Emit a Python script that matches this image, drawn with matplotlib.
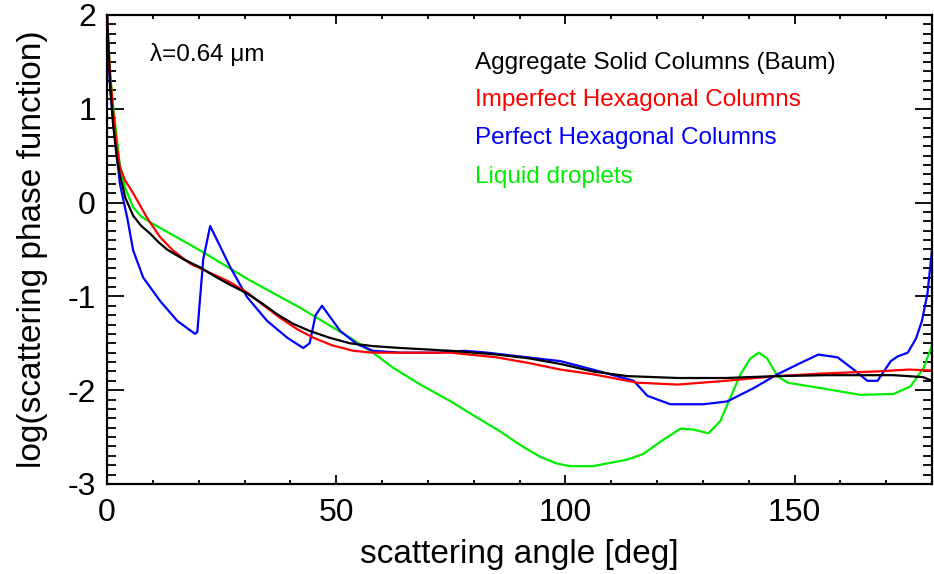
import numpy as np
import matplotlib
matplotlib.use('Agg')
import matplotlib.pyplot as plt
from matplotlib.ticker import MultipleLocator

# Aggregate Solid Columns (Baum)
agg_angle = [0, 0.3, 0.7, 1.3, 2.2, 2.8, 4, 5.7, 7.5, 9.4, 11.2, 13.1, 16.5, 20.3, 24, 27, 30.6, 34, 37.1,
             40.5, 44.3, 48.5, 53, 58, 64, 75, 85, 92, 98.9, 106, 113.5, 124.5, 135, 146, 157, 171.6, 178, 180]
agg_logp = [2, 1.65, 1.25, 0.84, 0.45, 0.3, 0.05, -0.14, -0.25, -0.33, -0.42, -0.5, -0.6, -0.69, -0.8, -0.88, -0.97, -1.08, -1.19,
            -1.29, -1.37, -1.44, -1.5, -1.53, -1.55, -1.58, -1.62, -1.66, -1.72, -1.8, -1.85, -1.87, -1.87, -1.85, -1.84, -1.84, -1.86, -1.9]

# Imperfect Hexagonal Columns
imp_angle = [0, 0.3, 0.7, 1.3, 2, 2.8, 3.9, 5.7, 8.7, 11.6, 14.4, 18.1, 22.5, 26.5, 30.6, 34, 37.8, 41.5, 45, 49, 53.7,
             58, 64, 75, 85, 92, 98.9, 106, 115.7, 124.5, 135, 146, 157, 168, 175, 180]
imp_logp = [2, 1.7, 1.35, 1.0, 0.65, 0.38, 0.24, 0.1, -0.16, -0.37, -0.51, -0.65, -0.75, -0.84, -0.96, -1.09, -1.23, -1.35, -1.44, -1.52, -1.58,
            -1.6, -1.6, -1.6, -1.65, -1.71, -1.78, -1.83, -1.92, -1.94, -1.9, -1.85, -1.82, -1.8, -1.78, -1.79]

# Perfect Hexagonal Columns
per_angle = [0, 0.3, 0.7, 1.3, 2.8, 4.4, 5.7, 7.9, 11.6, 15.3, 19.2, 19.7, 21, 22.5, 26.9, 30.6,
             34.9, 39.3, 42.8, 44.2, 45.5, 46.9, 50.9, 54.6, 58, 64, 72, 78, 83, 90,
             98.9, 106, 114.9, 117.9, 122.9, 130.1, 135.3, 141, 146.3, 151.3, 155.2, 159.4,
             162.9, 165.9, 168.1, 171, 172.5, 174.7, 176.5, 177.8, 179, 180]
per_logp = [2, 1.6, 1.2, 0.9, 0.2, -0.16, -0.51, -0.8, -1.05, -1.26, -1.4, -1.38, -0.6, -0.25, -0.69, -1.01,
            -1.26, -1.44, -1.55, -1.5, -1.2, -1.1, -1.37, -1.51, -1.58, -1.6, -1.6, -1.58, -1.6, -1.64,
            -1.69, -1.78, -1.9, -2.06, -2.15, -2.15, -2.12, -1.98, -1.83, -1.71, -1.62, -1.65,
            -1.78, -1.9, -1.9, -1.69, -1.64, -1.6, -1.45, -1.26, -0.97, -0.5]

# Liquid droplets
liq_angle = [0, 0.3, 0.7, 1.4, 2.8, 4, 5.7, 7.5, 9.4, 20.3, 31.2, 42.1, 53, 58, 62.4, 68, 75, 80, 85.8,
             90, 94.5, 98, 101, 106, 113.5, 117, 120.7, 125.1, 128, 131.2, 133.8, 136, 138.2, 140.4,
             142.2, 144, 146.3, 148.5, 157.2, 164.4, 171.6, 175.3, 178.2, 180]
liq_logp = [2, 1.7, 1.35, 1.0, 0.4, 0.15, -0.05, -0.15, -0.21, -0.51, -0.83, -1.12, -1.44, -1.6, -1.76, -1.93, -2.12, -2.27, -2.44,
            -2.58, -2.71, -2.78, -2.81, -2.81, -2.74, -2.68, -2.55, -2.41, -2.42, -2.46, -2.33, -2.08, -1.83, -1.66,
            -1.6, -1.66, -1.85, -1.92, -1.99, -2.05, -2.04, -1.96, -1.76, -1.52]

labels = ['Aggregate Solid Columns (Baum)', 'Imperfect Hexagonal Columns',
          'Perfect Hexagonal Columns', 'Liquid droplets']
colors = ['#000000', '#ff0000', '#0000ff', '#00ee00']

plt.rcParams['font.family'] = ['Liberation Sans', 'DejaVu Sans']
plt.rcParams['axes.unicode_minus'] = False

fig = plt.figure(figsize=(9.34, 5.74), dpi=100)
ax = fig.add_axes([0.1146, 0.1568, 0.8833, 0.8171])

# draw the curves (black on top)
ax.plot(liq_angle, liq_logp, color=colors[3], lw=1.6)
ax.plot(per_angle, per_logp, color=colors[2], lw=1.6)
ax.plot(imp_angle, imp_logp, color=colors[1], lw=1.6)
ax.plot(agg_angle, agg_logp, color=colors[0], lw=1.6)

ax.set_xlim(0, 180)
ax.set_ylim(-3, 2)
ax.xaxis.set_major_locator(MultipleLocator(50))
ax.xaxis.set_minor_locator(MultipleLocator(10))
ax.yaxis.set_major_locator(MultipleLocator(1))
ax.yaxis.set_minor_locator(MultipleLocator(0.1))

# IDL-like inward ticks on all sides
ax.tick_params(axis='both', which='both', direction='in', top=True, right=True, width=1.3)
ax.tick_params(axis='x', which='major', length=6.5, labelsize=23, pad=10)
ax.tick_params(axis='x', which='minor', length=3.2)
ax.tick_params(axis='y', which='major', length=12, labelsize=23, pad=8)
ax.tick_params(axis='y', which='minor', length=6.5)
for s in ax.spines.values():
    s.set_linewidth(1.6)

ax.set_xlabel('scattering angle [deg]', fontsize=24, labelpad=8)
ax.set_ylabel('log(scattering phase function)', fontsize=24, labelpad=14)

ax.text(0.052, 0.915, 'λ=0.64 μm', transform=ax.transAxes, fontsize=17.5, va='center')

# text legend
leg_y = [0.898, 0.819, 0.738, 0.655]
for lab, c, yy in zip(labels, colors, leg_y):
    ax.text(0.446, yy, lab, color=c, transform=ax.transAxes, fontsize=17.5, va='center')

plt.savefig('out.png', dpi=100)
